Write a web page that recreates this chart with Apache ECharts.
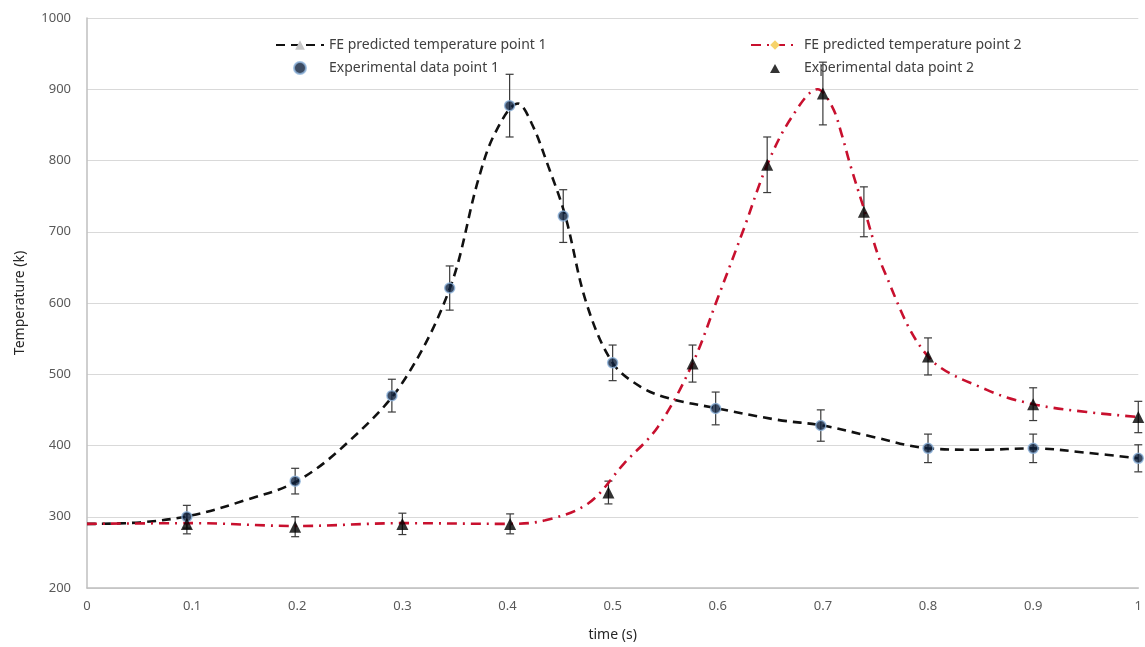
<!DOCTYPE html>
<html>
<head>
<meta charset="utf-8">
<script src="https://cdn.jsdelivr.net/npm/echarts@6/dist/echarts.min.js"></script>
<style>
    html, body { margin: 0; padding: 0; background: #fff; }
    #chart { width: 1145px; height: 647px; }
</style>
</head>
<body>
<div id="chart"></div>
<script>
    // FE predicted curves
    const fe1Time = [0, 0.05, 0.1, 0.15, 0.2, 0.25, 0.3, 0.345, 0.372, 0.388, 0.41, 0.423, 0.439, 0.455, 0.475, 0.5, 0.527, 0.554, 0.6, 0.657, 0.7, 0.745, 0.8, 0.85, 0.9, 0.95, 1.0];
    const fe1Temp = [290, 292, 302, 323, 350, 407, 488, 620, 772, 838, 880, 852, 791, 722, 600, 516, 482, 466, 452, 436, 428, 413, 396, 394, 396, 390, 382];
    const fe2Time = [0, 0.1, 0.2, 0.3, 0.4, 0.436, 0.477, 0.511, 0.543, 0.576, 0.6, 0.625, 0.647, 0.67, 0.695, 0.709, 0.718, 0.726, 0.74, 0.758, 0.8, 0.856, 0.9, 0.951, 1.0];
    const fe2Temp = [290, 291, 287, 291, 290, 295, 319, 375, 426, 515, 607, 705, 794, 860, 900, 875, 836, 794, 728, 646, 525, 478, 458, 447, 440];

    // experimental points with error (+/-)
    const exp1Time = [0.095, 0.198, 0.29, 0.345, 0.402, 0.453, 0.5, 0.598, 0.698, 0.8, 0.9, 1.0];
    const exp1Temp = [300, 350, 470, 621, 877, 722, 516, 452, 428, 396, 396, 382];
    const exp1Err = [16, 18, 23, 31, 44, 37, 25, 23, 22, 20, 20, 19];
    const exp2Time = [0.095, 0.198, 0.3, 0.4025, 0.496, 0.576, 0.647, 0.7, 0.739, 0.8, 0.9, 1.0];
    const exp2Temp = [290, 286, 290, 290, 334, 515, 794, 894, 728, 525, 458, 440];
    const exp2Err = [14, 14, 15, 14, 16, 26, 39, 44, 35, 26, 23, 22];

    const font = 'Noto Sans';
    const pairs = (xs, ys) => xs.map((x, i) => [x, ys[i]]);
    const errRows = (xs, ys, es) => xs.map((x, i) => [x, ys[i] - es[i], ys[i] + es[i]]);

    function renderErr(params, api) {
        let x = api.value(0);
        let lo = api.coord([x, api.value(1)]);
        let hi = api.coord([x, api.value(2)]);
        let style = { stroke: '#3a3a3a', lineWidth: 1.2 };
        let cap = 4;
        return {
            type: 'group',
            children: [
                { type: 'line', shape: { x1: lo[0], y1: lo[1], x2: hi[0], y2: hi[1] }, style: style },
                { type: 'line', shape: { x1: lo[0] - cap, y1: lo[1], x2: lo[0] + cap, y2: lo[1] }, style: style },
                { type: 'line', shape: { x1: hi[0] - cap, y1: hi[1], x2: hi[0] + cap, y2: hi[1] }, style: style }
            ]
        };
    }

    let myChart = echarts.init(document.getElementById('chart'));
    let legendText = { fontFamily: font, fontSize: 14, color: '#404040' };
    // small triangle centred in a 48x12 box so the legend does not stretch it
    let triIcon = 'path://M0,0M48,12M19,11L24,2L29,11Z';
    let option = {
        animation: false,
        textStyle: { fontFamily: font },
        grid: { left: 87, right: 3, top: 18, bottom: 59 },
        legend: [
            {
                left: 270, top: 33, orient: 'vertical', itemGap: 9,
                itemWidth: 48, itemHeight: 12, textStyle: legendText,
                data: [
                    { name: 'FE predicted temperature point 1', itemStyle: { color: '#c8c8c8' } },
                    { name: 'Experimental data point 1' }
                ]
            },
            {
                left: 745, top: 33, orient: 'vertical', itemGap: 9,
                itemWidth: 48, itemHeight: 12, textStyle: legendText,
                data: [
                    { name: 'FE predicted temperature point 2', itemStyle: { color: '#f6d36b' } },
                    { name: 'Experimental data point 2', icon: triIcon }
                ]
            }
        ],
        xAxis: {
            type: 'value', min: 0, max: 1, interval: 0.1,
            name: 'time (s)', nameLocation: 'middle', nameGap: 40,
            nameTextStyle: { fontFamily: font, fontSize: 14, color: '#262626' },
            axisLine: { lineStyle: { color: '#bfbfbf', width: 1.5 } },
            axisTick: { show: false },
            axisLabel: { fontFamily: font, fontSize: 13, color: '#595959', margin: 12 },
            splitLine: { show: false }
        },
        yAxis: {
            type: 'value', min: 200, max: 1000, interval: 100,
            name: 'Temperature (k)', nameLocation: 'middle', nameGap: 60,
            nameTextStyle: { fontFamily: font, fontSize: 14, color: '#262626' },
            axisLine: { show: true, lineStyle: { color: '#bfbfbf', width: 1.5 } },
            axisTick: { show: false },
            axisLabel: {
                fontFamily: font, fontSize: 13, color: '#595959', margin: 16,
                formatter: function (v) { return String(v); }
            },
            splitLine: { lineStyle: { color: '#d9d9d9', width: 1.2 } }
        },
        series: [
            {
                name: 'FE predicted temperature point 1',
                type: 'line',
                smooth: 0.35,
                showSymbol: false,
                symbol: 'triangle',
                z: 3,
                itemStyle: { color: '#111111' },
                lineStyle: { color: '#111111', width: 2.6, type: [9, 6] },
                data: pairs(fe1Time, fe1Temp)
            },
            {
                name: 'FE predicted temperature point 2',
                type: 'line',
                smooth: 0.35,
                showSymbol: false,
                symbol: 'diamond',
                z: 3,
                itemStyle: { color: '#c8102e' },
                lineStyle: { color: '#c8102e', width: 2.6, type: [10, 6, 2, 6] },
                data: pairs(fe2Time, fe2Temp)
            },
            {
                type: 'custom',
                renderItem: renderErr,
                z: 2,
                data: errRows(exp1Time, exp1Temp, exp1Err)
            },
            {
                type: 'custom',
                renderItem: renderErr,
                z: 2,
                data: errRows(exp2Time, exp2Temp, exp2Err)
            },
            {
                name: 'Experimental data point 1',
                type: 'scatter',
                symbol: 'circle',
                symbolSize: 10,
                z: 4,
                itemStyle: { color: '#0d1f3c', borderColor: '#8fb4dc', borderWidth: 1.5 },
                data: pairs(exp1Time, exp1Temp)
            },
            {
                name: 'Experimental data point 2',
                type: 'scatter',
                symbol: 'triangle',
                symbolSize: 12,
                z: 4,
                itemStyle: { color: '#000000' },
                data: pairs(exp2Time, exp2Temp)
            }
        ]
    };
    myChart.setOption(option);
</script>
</body>
</html>
